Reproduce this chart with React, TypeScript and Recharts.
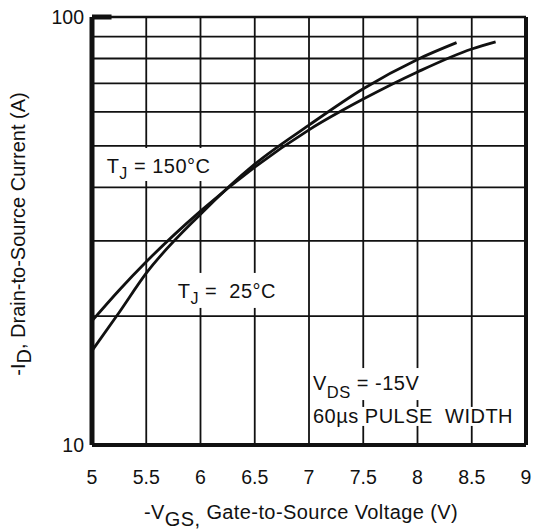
import React from "react";
import {
  LineChart,
  Line,
  XAxis,
  YAxis,
  CartesianGrid,
  ReferenceLine,
  ReferenceDot,
  Label,
} from "recharts";

// ---- data ----
const vgs150 = [5.0, 5.25, 5.5, 6.0, 6.5, 7.0, 7.5, 8.0, 8.5, 8.72];
const id150 = [19.5, 23.0, 26.8, 35.2, 44.6, 54.5, 64.3, 74.4, 84.2, 87.5];
const vgs25 = [5.0, 5.25, 5.5, 6.0, 6.5, 7.0, 7.5, 8.0, 8.36];
const id25 = [16.6, 20.4, 25.2, 34.6, 45.3, 55.9, 68.0, 79.6, 87.1];

const xTicks = [5, 5.5, 6, 6.5, 7, 7.5, 8, 8.5, 9];
const yTicks = [10, 20, 30, 40, 50, 60, 70, 80, 90, 100];
const yTickLabels = ["10", "", "", "", "", "", "", "", "", "100"];

const data150 = vgs150.map((v, k) => ({ v, i: id150[k] }));
const data25 = vgs25.map((v, k) => ({ v, i: id25[k] }));

const FONT = "'Liberation Sans', Arial, Helvetica, sans-serif";
const INK = "#111";
const FS = 19.5;
const AFS = 20;
const SUB = 16;
const LS = 0.5;

const Ann150 = (props: any) => {
  const { x, y } = props.viewBox;
  return (
    <g>
      <rect x={x - 3} y={y - 25} width={110} height={33} fill="#fff" />
      <text x={x} y={y} fontFamily={FONT} fontSize={AFS} fill={INK} letterSpacing={LS}>
        T
        <tspan fontSize={SUB} dy={6}>J</tspan>
        <tspan dy={-6}> = 150°C</tspan>
      </text>
    </g>
  );
};

const Ann25 = (props: any) => {
  const { x, y } = props.viewBox;
  return (
    <g>
      <rect x={x - 3} y={y - 25} width={106} height={35} fill="#fff" />
      <text x={x} y={y} fontFamily={FONT} fontSize={AFS} fill={INK} letterSpacing={LS} style={{ whiteSpace: "pre" }}>
        T
        <tspan fontSize={SUB} dy={6}>J</tspan>
        <tspan dy={-6}>{" =  25°C"}</tspan>
      </text>
    </g>
  );
};

const AnnVds = (props: any) => {
  const { x, y } = props.viewBox;
  return (
    <g>
      <rect x={x - 3} y={y - 22} width={118} height={32} fill="#fff" />
      <text x={x} y={y} fontFamily={FONT} fontSize={AFS} fill={INK} letterSpacing={LS} style={{ whiteSpace: "pre" }}>
        V
        <tspan fontSize={SUB + 0.5} dy={8}>DS</tspan>
        <tspan dy={-8}>{" = -15V"}</tspan>
      </text>
    </g>
  );
};

const AnnPulse = (props: any) => {
  const { x, y } = props.viewBox;
  return (
    <g>
      <rect x={x - 3} y={y - 16} width={205} height={19} fill="#fff" />
      <text x={x} y={y} fontFamily={FONT} fontSize={AFS} fill={INK} letterSpacing={LS} style={{ whiteSpace: "pre" }}>
        {"60µs PULSE  WIDTH"}
      </text>
    </g>
  );
};

const XTitle = (props: any) => {
  const { x, width, y } = props.viewBox;
  const cx = x + width / 2 - 8;
  const by = y + 74;
  return (
    <text x={cx} y={by} textAnchor="middle" fontFamily={FONT} fontSize={AFS} fill={INK} letterSpacing={0.4}>
      -V
      <tspan dy={7}>GS,</tspan>
      <tspan dy={-7}> Gate-to-Source Voltage (V)</tspan>
    </text>
  );
};

const YTitle = (props: any) => {
  const { x, y, height } = props.viewBox;
  const cx = x + 25;
  const cy = y + height / 2 + 3;
  return (
    <text
      x={cx}
      y={cy}
      transform={`rotate(-90, ${cx}, ${cy})`}
      textAnchor="middle"
      fontFamily={FONT}
      fontSize={AFS}
      fill={INK}
    >
      -I
      <tspan dy={6}>D</tspan>
      <tspan dy={-6}>, Drain-to-Source Current (A)</tspan>
    </text>
  );
};

export default function App() {
  return (
    <div style={{ width: 533, height: 529, background: "#fff" }}>
      <style>{`html,body{margin:0;overflow:hidden;background:#fff}`}</style>
      <LineChart
        width={533}
        height={529}
        margin={{ top: 17, right: 7, bottom: 0, left: 0 }}
      >
        <CartesianGrid stroke={INK} strokeWidth={1.8} strokeOpacity={1} />
        <XAxis
          type="number"
          dataKey="v"
          domain={[5, 9]}
          ticks={xTicks}
          allowDataOverflow
          axisLine={false}
          tickLine={false}
          tickSize={0}
          tickMargin={25}
          height={84}
          interval={0}
          tick={{ fontFamily: FONT, fontSize: FS, fill: INK }}
        >
          <Label content={XTitle} />
        </XAxis>
        <YAxis
          type="number"
          scale="log"
          domain={[10, 100]}
          ticks={yTicks}
          allowDataOverflow
          axisLine={false}
          tickLine={false}
          tickSize={0}
          tickMargin={8}
          width={92}
          interval={0}
          tickFormatter={(v: number) => yTickLabels[yTicks.indexOf(v)] ?? ""}
          tick={{ fontFamily: FONT, fontSize: FS, fill: INK }}
        >
          <Label content={YTitle} />
        </YAxis>

        <ReferenceLine y={10} stroke={INK} strokeWidth={4} />
        <ReferenceLine y={100} stroke={INK} strokeWidth={2.5} />
        <ReferenceLine x={5} stroke={INK} strokeWidth={5} />
        <ReferenceLine x={9} stroke={INK} strokeWidth={4} />
        <ReferenceLine
          segment={[
            { x: 5, y: 100 },
            { x: 5.18, y: 100 },
          ]}
          stroke={INK}
          strokeWidth={5}
        />

        <ReferenceDot x={5.135} y={43.2} r={0} stroke="none" fill="none" label={Ann150} />
        <ReferenceDot x={5.79} y={22.06} r={0} stroke="none" fill="none" label={Ann25} />
        <ReferenceDot x={7.037} y={13.44} r={0} stroke="none" fill="none" label={AnnVds} />
        <ReferenceDot x={7.037} y={11.26} r={0} stroke="none" fill="none" label={AnnPulse} />

        <Line
          data={data150}
          dataKey="i"
          type="monotone"
          stroke={INK}
          strokeWidth={2.8}
          dot={false}
          isAnimationActive={false}
        />
        <Line
          data={data25}
          dataKey="i"
          type="monotone"
          stroke={INK}
          strokeWidth={2.8}
          dot={false}
          isAnimationActive={false}
        />
      </LineChart>
    </div>
  );
}
